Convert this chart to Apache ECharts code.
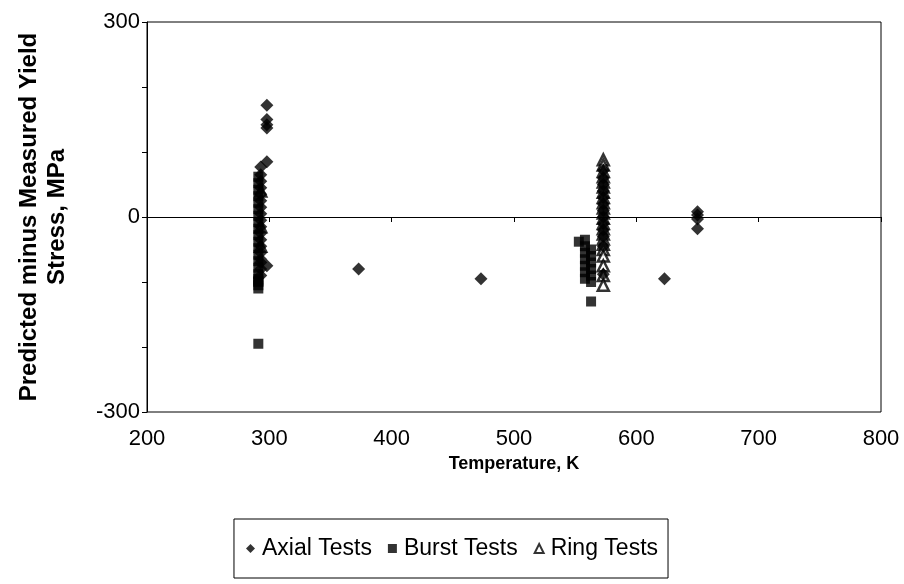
<!DOCTYPE html>
<html>
<head>
<meta charset="utf-8">
<script src="https://cdn.jsdelivr.net/npm/echarts@6/dist/echarts.min.js"></script>
<style>html,body{margin:0;padding:0;background:#fff}#c{width:904px;height:584px}</style>
</head>
<body>
<div id="c"></div>
<script>
// Axial tests (diamonds)
var axialTemp   = [298, 298, 298, 298, 298, 298, 293, 293, 293, 293, 293, 293, 293, 293, 293, 293, 293, 293, 293, 293, 293, 293, 293, 293, 373, 473, 573, 573, 573, 573, 573, 573, 573, 573, 573, 573, 573, 573, 573, 623, 650, 650, 650, 650];
var axialStress = [172, 150, 142, 137, 85, -75, 77, 65, 55, 45, 35, 25, 15, 5, -5, -15, -25, -35, -45, -55, -65, -70, -80, -90, -80, -95, 72, 60, 50, 40, 30, 20, 10, 0, -10, -20, -30, -45, -88, -95, 8, 3, -3, -18];
// Burst tests (squares)
var burstTemp   = [291, 291, 291, 291, 291, 291, 291, 291, 291, 291, 291, 291, 291, 291, 291, 291, 291, 291, 291, 291, 291, 291, 553, 558, 558, 558, 558, 558, 558, 558, 563, 563, 563, 563, 563, 563, 563];
var burstStress = [62, 52, 42, 32, 22, 12, 2, -8, -18, -28, -38, -48, -58, -68, -78, -88, -95, -100, -105, -110, -98, -195, -38, -35, -45, -55, -65, -75, -85, -95, -50, -60, -70, -80, -90, -100, -130];
// Ring tests (triangles)
var ringTemp    = [293, 293, 293, 573, 573, 573, 573, 573, 573, 573, 573, 573, 573, 573, 573, 573, 573, 573, 573, 573, 573, 573, 573, 573, 573];
var ringStress  = [40, -15, -45, 88, 80, 70, 62, 54, 46, 38, 30, 22, 14, 6, -2, -10, -18, -26, -34, -42, -50, -60, -75, -90, -105];
var xTicks = [200, 300, 400, 500, 600, 700, 800];
var yLabelled = [300, 0, -300];

function pairs(a, b) { return a.map(function (t, i) { return [t, b[i]]; }); }

var font = 'Liberation Sans, Arial, sans-serif';
var chart = echarts.init(document.getElementById('c'), null, {renderer: 'canvas'});
chart.setOption({
  animation: false,
  backgroundColor: '#fff',
  grid: {left: 147, right: 23, top: 22, bottom: 172, show: true, borderColor: '#000', borderWidth: 1},
  xAxis: {
    type: 'value', min: xTicks[0], max: xTicks[xTicks.length - 1], interval: 100,
    name: 'Temperature, K', nameLocation: 'middle', nameGap: 43,
    nameTextStyle: {fontFamily: font, fontWeight: 'bold', fontSize: 18, color: '#000'},
    axisLine: {show: true, lineStyle: {color: '#000', width: 1}},
    axisTick: {show: true, length: 5, lineStyle: {color: '#000'}},
    axisLabel: {fontFamily: font, fontSize: 22, color: '#000', margin: 16},
    splitLine: {show: false}
  },
  yAxis: {
    type: 'value', min: -300, max: 300, interval: 100,
    name: 'Predicted minus Measured Yield\nStress, MPa', nameLocation: 'middle', nameGap: 76,
    nameTextStyle: {fontFamily: font, fontWeight: 'bold', fontSize: 24, color: '#000', lineHeight: 28},
    axisLine: {show: true, lineStyle: {color: '#000', width: 1}},
    axisTick: {show: true, length: 5, lineStyle: {color: '#000'}},
    axisLabel: {fontFamily: font, fontSize: 22, color: '#000', margin: 7,
      formatter: function (v) { return yLabelled.indexOf(v) >= 0 ? String(v) : ''; }},
    splitLine: {show: false}
  },
  legend: {
    bottom: 6, left: 'center', orient: 'horizontal',
    borderColor: '#000', borderWidth: 1, padding: [18, 10, 18, 12],
    itemWidth: 9, itemHeight: 9, itemGap: 16,
    textStyle: {fontFamily: font, fontSize: 23, color: '#000', padding: [0, 0, 0, 2]},
    data: [
      {name: 'Axial Tests', icon: 'diamond'},
      {name: 'Burst Tests', icon: 'rect'},
      {name: 'Ring Tests', icon: 'triangle'}
    ]
  },
  series: [
    {
      name: 'Axial Tests', type: 'scatter', symbol: 'diamond', symbolSize: 13,
      itemStyle: {color: '#000'}, data: pairs(axialTemp, axialStress), z: 3,
      markLine: {silent: true, symbol: 'none', label: {show: false},
        lineStyle: {color: '#000', width: 1, type: 'solid'}, data: [{yAxis: 0}]}
    },
    {
      name: 'Burst Tests', type: 'scatter', symbol: 'rect', symbolSize: 10,
      itemStyle: {color: '#000'}, data: pairs(burstTemp, burstStress), z: 2
    },
    {
      name: 'Ring Tests', type: 'scatter', symbol: 'triangle', symbolSize: 11,
      itemStyle: {color: '#fff', borderColor: '#000', borderWidth: 2.5},
      data: pairs(ringTemp, ringStress), z: 1
    }
  ]
});
</script>
</body>
</html>
